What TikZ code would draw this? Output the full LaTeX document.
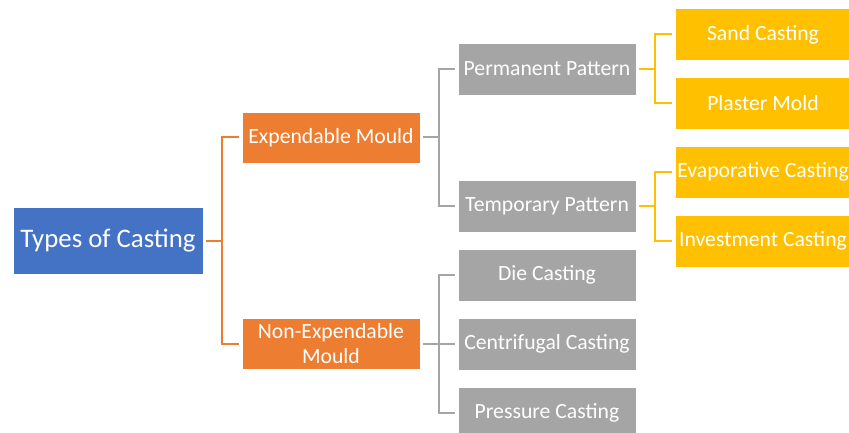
\documentclass[tikz,border=0pt]{standalone}
\usepackage{fontspec}
\setmainfont{Carlito}
\definecolor{cblue}{HTML}{4472C4}
\definecolor{corange}{HTML}{ED7D31}
\definecolor{cgray}{HTML}{A5A5A5}
\definecolor{cgold}{HTML}{FFC000}
\tikzset{
  box/.style={draw=white, line width=0.6pt, text=white, align=center, inner sep=0pt,
    font=\fontsize{21.7}{24.5}\selectfont},
  rootbox/.style={box, fill=cblue, minimum width=190pt, minimum height=67pt,
    font=\fontsize{26.8}{30}\selectfont},
  lvlone/.style={box, fill=corange, minimum width=178pt, minimum height=51pt},
  lvltwo/.style={box, fill=cgray, minimum width=178pt, minimum height=52pt},
  lvlthree/.style={box, fill=cgold, minimum width=176pt, minimum height=52pt},
  link/.style={line width=2pt, shorten <=3pt, shorten >=3pt},
}
\begin{document}
\begin{tikzpicture}[x=1pt,y=-1pt]
\useasboundingbox (0,0) rectangle (849,433);
\node[rootbox] (root) at (108,240.5) {Types of Casting};
\node[lvlone] (exp) at (331,137.5) {Expendable Mould};
\node[lvlone] (nexp) at (331,343.5) {Non-Expendable\\Mould};
\node[lvltwo] (perm) at (547,69) {Permanent Pattern};
\node[lvltwo] (temp) at (547,206) {Temporary Pattern};
\node[lvltwo] (die) at (547,275) {Die Casting};
\node[lvltwo] (cent) at (547,344) {Centrifugal Casting};
\node[lvltwo] (pres) at (547,413) {Pressure Casting};
\node[lvlthree] (sand) at (763,34.5) {Sand Casting};
\node[lvlthree] (plas) at (763,103) {Plaster Mold};
\node[lvlthree] (evap) at (763,172) {Evaporative Casting};
\node[lvlthree] (inv) at (763,241) {Investment Casting};

\draw[link, corange] (root.east) -- ++(19,0) |- (exp.west);
\draw[link, corange] (root.east) -- ++(19,0) |- (nexp.west);
\draw[link, cgray] (exp.east) -- ++(19,0) |- (perm.west);
\draw[link, cgray] (exp.east) -- ++(19,0) |- (temp.west);
\draw[link, cgray] (nexp.east) -- ++(19,0) |- (die.west);
\draw[link, cgray] (nexp.east) -- ++(19,0) |- (cent.west);
\draw[link, cgray] (nexp.east) -- ++(19,0) |- (pres.west);
\draw[link, cgold] (perm.east) -- ++(19,0) |- (sand.west);
\draw[link, cgold] (perm.east) -- ++(19,0) |- (plas.west);
\draw[link, cgold] (temp.east) -- ++(19,0) |- (evap.west);
\draw[link, cgold] (temp.east) -- ++(19,0) |- (inv.west);
\end{tikzpicture}
\end{document}
